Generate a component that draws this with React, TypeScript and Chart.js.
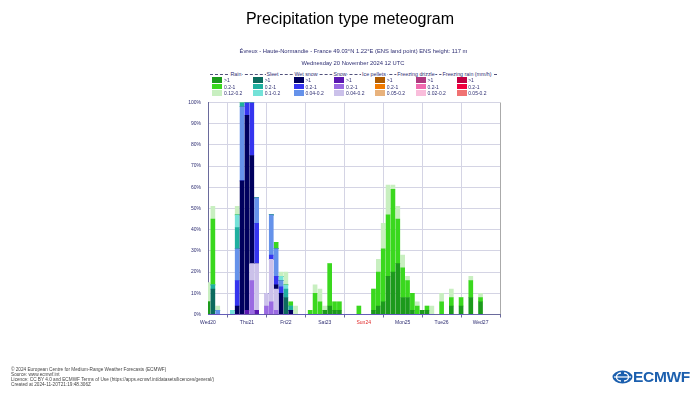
import React, { useEffect, useRef } from 'react';
import { Chart, registerables } from 'chart.js';

Chart.register(...registerables);

// Forecast hours after Wednesday 20 November 2024 12 UTC (3-hourly, then 6-hourly)
const hours = [
  0, 3, 6, 9, 12, 15, 18, 21, 24, 27,
  30, 33, 36, 39, 42, 45, 48, 51, 54, 57,
  60, 63, 66, 69, 72, 75, 78, 81, 84, 87,
  90, 93, 96, 99, 102, 105, 108, 111, 114, 117,
  120, 123, 126, 129, 132, 135, 138, 144, 150, 156,
  162, 168,
];

const dayLabels = ['Wed20', 'Thu21', 'Fri22', 'Sat23', 'Sun24', 'Mon25', 'Tue26', 'Wed27'];
const yTickValues = [0, 10, 20, 30, 40, 50, 60, 70, 80, 90, 100];

// Probabilities (%) per intensity class, stacked in drawing order
const snowHeavy = [
  0, 0, 0, 0, 0, 0, 0, 0, 2, 0,
  2, 0, 0, 0, 0, 0, 0, 0, 0, 0,
  0, 0, 0, 0, 0, 0, 0, 0, 0, 0,
  0, 0, 0, 0, 0, 0, 0, 0, 0, 0,
  0, 0, 0, 0, 0, 0, 0, 0, 0, 0,
  0, 0,
];
const snowMid = [
  0, 0, 0, 0, 0, 0, 0, 0, 0, 16,
  0, 0, 4, 6, 2, 0, 0, 0, 0, 0,
  0, 0, 0, 0, 0, 0, 0, 0, 0, 0,
  0, 0, 0, 0, 0, 0, 0, 0, 0, 0,
  0, 0, 0, 0, 0, 0, 0, 0, 0, 0,
  0, 0,
];
const snowLight = [
  0, 0, 0, 0, 0, 0, 0, 0, 0, 8,
  22, 0, 6, 20, 10, 0, 0, 0, 0, 0,
  0, 0, 0, 0, 0, 0, 0, 0, 0, 0,
  0, 0, 0, 0, 0, 0, 0, 0, 0, 0,
  0, 0, 0, 0, 0, 0, 0, 0, 0, 0,
  0, 0,
];
const wetSnowHeavy = [
  0, 0, 0, 0, 0, 0, 4, 63, 92, 51,
  0, 0, 0, 0, 2, 10, 0, 2, 0, 0,
  0, 0, 0, 0, 0, 0, 0, 0, 0, 0,
  0, 0, 0, 0, 0, 0, 0, 0, 0, 0,
  0, 0, 0, 0, 0, 0, 0, 0, 0, 0,
  0, 0,
];
const wetSnowMid = [
  0, 0, 0, 0, 0, 0, 12, 0, 6, 25,
  19, 0, 0, 2, 4, 3, 0, 0, 0, 0,
  0, 0, 0, 0, 0, 0, 0, 0, 0, 0,
  0, 0, 0, 0, 0, 0, 0, 0, 0, 0,
  0, 0, 0, 0, 0, 0, 0, 0, 0, 0,
  0, 0,
];
const wetSnowLight = [
  0, 0, 2, 0, 0, 0, 15, 35, 0, 0,
  12, 0, 0, 19, 13, 3, 0, 0, 0, 0,
  0, 0, 0, 0, 0, 0, 0, 0, 0, 0,
  0, 0, 0, 0, 0, 0, 0, 0, 0, 0,
  0, 0, 0, 0, 0, 0, 0, 0, 0, 0,
  0, 0,
];
const sleetHeavy = [
  0, 12, 0, 0, 0, 0, 0, 0, 0, 0,
  0, 0, 0, 0, 0, 0, 8, 0, 0, 0,
  0, 0, 0, 0, 0, 0, 0, 0, 0, 0,
  0, 0, 0, 0, 0, 0, 0, 0, 0, 0,
  0, 0, 0, 0, 0, 0, 0, 0, 0, 0,
  0, 0,
];
const sleetMid = [
  0, 2, 0, 0, 0, 0, 10, 2, 0, 0,
  0, 0, 0, 0, 0, 0, 4, 2, 0, 0,
  0, 0, 0, 0, 0, 0, 0, 0, 0, 0,
  0, 0, 0, 0, 0, 0, 0, 0, 0, 0,
  0, 0, 0, 0, 0, 0, 0, 0, 0, 0,
  0, 0,
];
const sleetLight = [
  0, 0, 0, 0, 0, 2, 6, 0, 0, 0,
  0, 0, 0, 0, 0, 2, 2, 0, 0, 0,
  0, 0, 0, 0, 0, 0, 0, 0, 0, 0,
  0, 0, 0, 0, 0, 0, 0, 0, 0, 0,
  0, 0, 0, 0, 0, 0, 0, 0, 0, 0,
  0, 0,
];
const rainHeavy = [
  6, 0, 0, 0, 0, 0, 0, 0, 0, 0,
  0, 0, 0, 0, 0, 0, 0, 0, 0, 0,
  0, 0, 0, 0, 2, 4, 2, 2, 0, 0,
  0, 0, 0, 0, 2, 4, 6, 18, 20, 24,
  8, 8, 2, 0, 2, 2, 0, 0, 4, 4,
  8, 6,
];
const rainMid = [
  0, 31, 0, 0, 0, 0, 0, 0, 0, 0,
  0, 0, 0, 0, 3, 0, 0, 2, 0, 0,
  0, 2, 10, 6, 0, 20, 4, 4, 0, 0,
  0, 4, 0, 0, 10, 16, 25, 29, 39, 21,
  14, 8, 8, 4, 0, 2, 0, 6, 4, 4,
  8, 2,
];
const rainLight = [
  9, 6, 2, 0, 0, 0, 4, 0, 0, 0,
  0, 0, 0, 0, 0, 2, 6, 0, 4, 0,
  0, 0, 4, 6, 2, 0, 0, 0, 0, 0,
  0, 0, 0, 0, 0, 6, 12, 14, 2, 6,
  6, 2, 0, 2, 0, 0, 4, 4, 4, 0,
  2, 2,
];

// Legend groups (label, classes, colours)
const rainColors = ['#1c9a1c', '#3ad81e', '#c8efc0'];
const sleetColors = ['#0c6b5e', '#1fb09f', '#74e2d8'];
const wetSnowColors = ['#00005e', '#3535ef', '#6592ea'];
const snowColors = ['#5b17b2', '#9a6ae2', '#cbc1ea'];
const icePelletColors = ['#b05c00', '#f07a00', '#e8b27c'];
const fzdzColors = ['#b0387f', '#f06bb0', '#f9bddb'];
const fzraColors = ['#c00042', '#f0003f', '#f07272'];

const legendGroups = [
  { title: 'Rain', cx: 236, colors: rainColors, classes: ['>1', '0.2-1', '0.12-0.2'] },
  { title: 'Sleet', cx: 272.5, colors: sleetColors, classes: ['>1', '0.2-1', '0.1-0.2'] },
  { title: 'Wet snow', cx: 306, colors: wetSnowColors, classes: ['>1', '0.2-1', '0.04-0.2'] },
  { title: 'Snow', cx: 340, colors: snowColors, classes: ['>1', '0.2-1', '0.04-0.2'] },
  { title: 'Ice pellets', cx: 374, colors: icePelletColors, classes: ['>1', '0.2-1', '0.05-0.2'] },
  { title: 'Freezing drizzle', cx: 416, colors: fzdzColors, classes: ['>1', '0.2-1', '0.02-0.2'] },
  { title: 'Freezing rain (mm/h)', cx: 467, colors: fzraColors, classes: ['>1', '0.2-1', '0.05-0.2'] },
];

const series = [
  { label: 'Snow >1', values: snowHeavy, color: snowColors[0] },
  { label: 'Snow 0.2-1', values: snowMid, color: snowColors[1] },
  { label: 'Snow 0.04-0.2', values: snowLight, color: snowColors[2] },
  { label: 'Wet snow >1', values: wetSnowHeavy, color: wetSnowColors[0] },
  { label: 'Wet snow 0.2-1', values: wetSnowMid, color: wetSnowColors[1] },
  { label: 'Wet snow 0.04-0.2', values: wetSnowLight, color: wetSnowColors[2] },
  { label: 'Sleet >1', values: sleetHeavy, color: sleetColors[0] },
  { label: 'Sleet 0.2-1', values: sleetMid, color: sleetColors[1] },
  { label: 'Sleet 0.1-0.2', values: sleetLight, color: sleetColors[2] },
  { label: 'Rain >1', values: rainHeavy, color: rainColors[0] },
  { label: 'Rain 0.2-1', values: rainMid, color: rainColors[1] },
  { label: 'Rain 0.12-0.2', values: rainLight, color: rainColors[2] },
];

const FONT = '"Liberation Sans", Arial, sans-serif';
const NAVY = '#2e2e72';
const GRID = '#d4d4e4';
const AXIS = '#6a6a9c';

const footerLines = [
  '© 2024 European Centre for Medium-Range Weather Forecasts (ECMWF)',
  'Source: www.ecmwf.int',
  'Licence: CC BY 4.0 and ECMWF Terms of Use (https://apps.ecmwf.int/datasets/licences/general/)',
  'Created at 2024-11-20T21:19:48.306Z',
];

function Meteogram() {
  const ref = useRef<HTMLCanvasElement>(null);
  useEffect(() => {
    const canvas = ref.current;
    if (!canvas) return;
    const xTicks: number[] = [];
    for (let h = 0; h <= 180; h += 12) xTicks.push(h);
    const chart = new Chart(canvas, {
      type: 'bar',
      data: {
        datasets: series.map((s) => ({
          label: s.label,
          data: hours.map((h, i) => ({ x: h, y: s.values[i] })),
          backgroundColor: s.color,
          borderWidth: 0,
          barThickness: 4,
        })),
      },
      options: {
        animation: false,
        responsive: false,
        devicePixelRatio: 1,
        layout: { padding: { left: 188, right: 200, top: 102.5, bottom: 70.5 } },
        plugins: { legend: { display: false }, tooltip: { enabled: false }, title: { display: false } },
        scales: {
          x: {
            type: 'linear',
            min: 0,
            max: 180,
            stacked: true,
            offset: false,
            afterBuildTicks: (s: any) => {
              s.ticks = xTicks.map((v) => ({ value: v }));
            },
            afterFit: (s: any) => {
              s.height = 15;
            },
            grid: {
              offset: false,
              drawTicks: true,
              tickLength: 3,
              color: (c: any) => {
                const v = c.tick ? c.tick.value : 0;
                if (v === 180) return '#aaaaaa';
                return v % 24 === 12 ? GRID : 'rgba(0,0,0,0)';
              },
              tickColor: (c: any) => {
                const v = c.tick ? c.tick.value : 0;
                return v % 24 === 12 ? AXIS : 'rgba(0,0,0,0)';
              },
            },
            border: { color: AXIS, width: 1 },
            ticks: {
              autoSkip: false,
              maxRotation: 0,
              padding: 2,
              font: { size: 5, family: FONT },
              color: (c: any) => (c.tick && c.tick.value === 96 ? '#e02828' : NAVY),
              callback: (v: any) => {
                const n = Number(v);
                if (n % 24 !== 0) return '';
                return dayLabels[n / 24] || '';
              },
            },
          },
          y: {
            min: 0,
            max: 100,
            stacked: true,
            afterBuildTicks: (s: any) => {
              s.ticks = yTickValues.map((v) => ({ value: v }));
            },
            afterFit: (s: any) => {
              s.width = 20;
            },
            grid: {
              drawTicks: true,
              tickLength: 4,
              tickColor: 'rgba(0,0,0,0)',
              color: (c: any) => (c.tick && c.tick.value === 0 ? 'rgba(0,0,0,0)' : GRID),
            },
            border: { color: AXIS, width: 1 },
            ticks: {
              padding: 3,
              font: { size: 5, family: FONT },
              color: NAVY,
              callback: (v: any) => `${v}%`,
            },
          },
        },
      },
    });
    return () => chart.destroy();
  }, []);
  return (
    <canvas
      ref={ref}
      width={700}
      height={400}
      style={{ position: 'absolute', left: 0, top: 0, width: 700, height: 400 }}
    />
  );
}

function Legend() {
  const small: React.CSSProperties = { position: 'absolute', fontSize: 5, lineHeight: '6px', color: NAVY, whiteSpace: 'nowrap' };
  const rowTops = [77, 83.7, 90.3];
  return (
    <>
      <div style={{ position: 'absolute', left: 210, top: 74, width: 287, borderTop: '1px dashed #50507a' }} />
      {legendGroups.map((g, k) => (
        <React.Fragment key={g.title}>
          <div
            style={{
              ...small,
              fontSize: 5.3,
              top: 71.3,
              left: g.cx,
              transform: 'translateX(-50%)',
              background: '#fff',
              padding: '0 1px',
            }}
          >
            {g.title}
          </div>
          {g.classes.map((cl, r) => (
            <React.Fragment key={cl + r}>
              <div
                style={{
                  position: 'absolute',
                  left: 212.3 + k * 40.7,
                  top: rowTops[r],
                  width: 10,
                  height: 5.5,
                  background: g.colors[r],
                }}
              />
              <div style={{ ...small, left: 224 + k * 40.7, top: rowTops[r] - 0.2 }}>{cl}</div>
            </React.Fragment>
          ))}
        </React.Fragment>
      ))}
    </>
  );
}

function Logo() {
  return (
    <div style={{ position: 'absolute', left: 612, top: 368 }}>
      <svg width={21} height={16} viewBox="0 0 21 16" style={{ position: 'absolute', left: 0, top: 1 }}>
        <ellipse cx={10.5} cy={8} rx={10} ry={6.5} fill="#1b5fae" />
        <path d="M9 4 A4.5 4 0 0 0 9 12" stroke="#fff" strokeWidth={1.4} fill="none" />
        <path d="M12 4 A4.5 4 0 0 1 12 12" stroke="#fff" strokeWidth={1.4} fill="none" />
        <path d="M2 8 H19" stroke="#fff" strokeWidth={1.2} />
      </svg>
      <div
        style={{
          position: 'absolute',
          left: 21,
          top: 0,
          fontSize: 15.5,
          fontWeight: 'bold',
          lineHeight: '18px',
          color: '#1b5fae',
          fontFamily: FONT,
          letterSpacing: -0.3,
        }}
      >
        ECMWF
      </div>
    </div>
  );
}

export default function App() {
  return (
    <div
      style={{
        position: 'fixed',
        left: 0,
        top: 0,
        width: 700,
        height: 400,
        background: '#fff',
        fontFamily: FONT,
        overflow: 'hidden',
      }}
    >
      <Meteogram />
      <div
        style={{
          position: 'absolute',
          left: 0,
          top: 8.5,
          width: 700,
          textAlign: 'center',
          fontSize: 16,
          lineHeight: '20px',
          color: '#000',
        }}
      >
        Precipitation type meteogram
      </div>
      <div
        style={{
          position: 'absolute',
          left: 353.5,
          top: 47.5,
          transform: 'translateX(-50%)',
          fontSize: 5.8,
          lineHeight: '7px',
          color: NAVY,
          whiteSpace: 'nowrap',
        }}
      >
        Évreux - Haute-Normandie - France 49.03°N 1.22°E (ENS land point) ENS height: 117 m
      </div>
      <div
        style={{
          position: 'absolute',
          left: 353,
          top: 59.5,
          transform: 'translateX(-50%)',
          fontSize: 5.8,
          lineHeight: '7px',
          color: NAVY,
          whiteSpace: 'nowrap',
        }}
      >
        Wednesday 20 November 2024 12 UTC
      </div>
      <Legend />
      {footerLines.map((t, i) => (
        <div
          key={i}
          style={{
            position: 'absolute',
            left: 11,
            top: 366.5 + i * 5,
            fontSize: 4.7,
            lineHeight: '5px',
            color: '#444',
            whiteSpace: 'nowrap',
          }}
        >
          {t}
        </div>
      ))}
      <Logo />
    </div>
  );
}
